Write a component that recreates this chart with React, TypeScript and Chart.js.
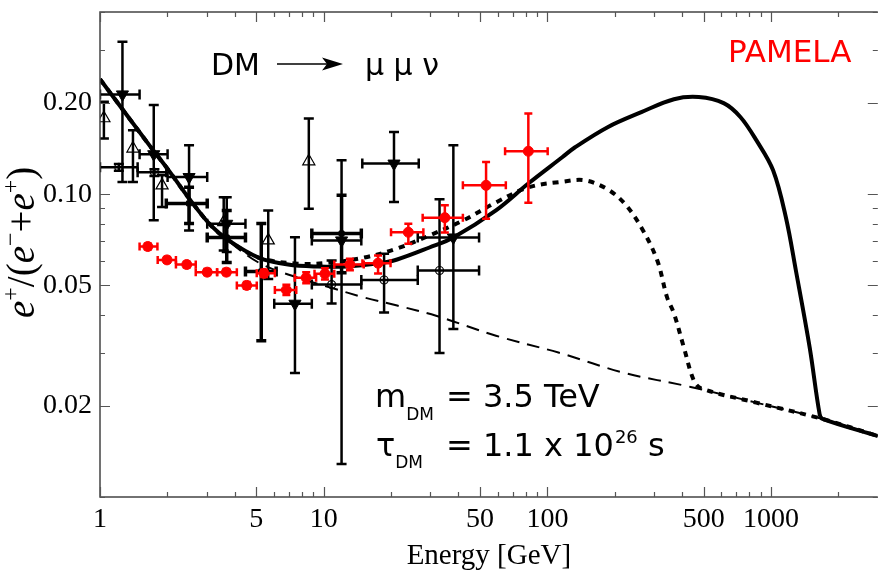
import React, { useEffect, useRef } from 'react';
import { Chart, registerables } from 'chart.js';

Chart.register(...registerables);

// ---------------- Axes ----------------
const X_MIN = 1;
const X_MAX = 3000;
const Y_MIN = 0.01;
const Y_MAX = 0.4;

const xTickValues = [1, 2, 3, 4, 5, 6, 7, 8, 9, 10, 20, 30, 40, 50, 60, 70, 80, 90, 100, 200, 300, 400, 500, 600, 700, 800, 900, 1000, 2000];
const xMajorValues = [1, 5, 10, 50, 100, 500, 1000];
const xMajorLabels = ['1', '5', '10', '50', '100', '500', '1000'];

const yTickValues = [0.01, 0.02, 0.03, 0.04, 0.05, 0.06, 0.07, 0.08, 0.09, 0.1, 0.2, 0.3, 0.4];
const yMajorValues = [0.02, 0.05, 0.1, 0.2];
const yMajorLabels = ['0.02', '0.05', '0.10', '0.20'];

// ---------------- Model curves ----------------
// DM -> mu mu nu, m = 3.5 TeV (solid)
const totalE = [1, 1.664, 2.04, 2.5, 3.13, 3.76, 5.11, 6.93, 9.41, 12.77, 17.3, 21.3, 29.7, 38.0, 58.9, 82.4, 116.5, 133, 186, 263, 368, 475, 614, 729, 859, 1021, 1165, 1291, 1489, 1648, 1699, 3000];
const totalRatio = [0.24, 0.145, 0.1192, 0.0969, 0.0789, 0.0704, 0.0618, 0.0586, 0.0577, 0.0577, 0.059, 0.0609, 0.0667, 0.072, 0.0885, 0.1087, 0.1325, 0.143, 0.1666, 0.1867, 0.206, 0.2094, 0.2, 0.18, 0.1509, 0.12, 0.0838, 0.056, 0.0311, 0.0188, 0.0181, 0.0159];

// lighter DM (dotted)
const lightE = [1, 1.664, 2.04, 2.5, 3.13, 3.76, 5.11, 7.67, 10.7, 15.2, 21.3, 29.7, 42.1, 58.9, 82.4, 116.5, 147, 186, 221, 263, 310, 343, 368, 408, 452, 490, 859, 1699, 3000];
const lightRatio = [0.24, 0.145, 0.1192, 0.0969, 0.0789, 0.0704, 0.0618, 0.059, 0.0595, 0.0618, 0.0662, 0.0731, 0.082, 0.094, 0.1054, 0.11, 0.1112, 0.1038, 0.0933, 0.0777, 0.0604, 0.0456, 0.0404, 0.0311, 0.0242, 0.0228, 0.0205, 0.0181, 0.0159];

// astrophysical background (dashed)
const bkgE = [1, 1.664, 2.04, 2.5, 3.13, 3.76, 5.11, 6.93, 10.7, 15.2, 21.3, 31.8, 58.9, 112, 221, 437, 857, 1699, 3000];
const bkgRatio = [0.24, 0.145, 0.1192, 0.0969, 0.0789, 0.07, 0.0595, 0.0543, 0.0492, 0.0456, 0.0429, 0.0397, 0.0341, 0.03, 0.0257, 0.0231, 0.0205, 0.0181, 0.0159];

// ---------------- Data: PAMELA ----------------
const pamelaE = [1.636, 1.993, 2.443, 3.015, 3.673, 4.53, 5.41, 6.81, 8.35, 10.13, 13.1, 17.5, 23.9, 34.8, 53.2, 82.2];
const pamelaELo = [1.503, 1.811, 2.185, 2.679, 3.338, 4.09, 5.02, 6.05, 7.42, 9.1, 11.15, 14.9, 20.0, 27.7, 41.9, 64.7];
const pamelaEHi = [1.806, 2.185, 2.679, 3.338, 4.09, 5.02, 6.05, 7.54, 9.25, 11.15, 15.1, 19.9, 27.9, 41.9, 65.2, 100.3];
const pamelaR = [0.0672, 0.0607, 0.0586, 0.0553, 0.0553, 0.05, 0.0548, 0.0483, 0.053, 0.0546, 0.0586, 0.0592, 0.0749, 0.0837, 0.107, 0.1387];
const pamelaRLo = [0.0657, 0.0594, 0.0573, 0.0541, 0.0541, 0.0487, 0.0533, 0.0465, 0.0508, 0.0523, 0.0561, 0.0547, 0.0686, 0.0748, 0.083, 0.0938];
const pamelaRHi = [0.0688, 0.0621, 0.0599, 0.0566, 0.0566, 0.0513, 0.0563, 0.0502, 0.0553, 0.057, 0.0612, 0.0628, 0.0799, 0.0919, 0.1278, 0.1849];

// ---------------- Data: filled down triangles ----------------
const triDownE = [1.26, 1.739, 2.501, 3.686, 7.44, 12.02, 20.62, 37.99];
const triDownELo = [1.0, 1.503, 2.005, 3.015, 6.01, 8.85, 14.88, 26.33];
const triDownEHi = [1.503, 2.005, 3.015, 4.47, 8.85, 14.73, 26.6, 49.5];
const triDownR = [0.2137, 0.1356, 0.114, 0.0799, 0.0435, 0.0704, 0.1263, 0.072];
const triDownRLo = [0.1097, 0.082, 0.0759, 0.0644, 0.0257, 0.01285, 0.0943, 0.0359];
const triDownRHi = [0.319, 0.197, 0.1452, 0.0977, 0.0721, 0.1295, 0.1607, 0.1452];

// ---------------- Data: open up triangles ----------------
const triUpE = [1.041, 1.404, 1.894, 3.573, 5.65, 8.58];
const triUpR = [0.1783, 0.1416, 0.107, 0.0809, 0.0704, 0.1285];
const triUpRLo = [0.1528, 0.1097, 0.0907, 0.0652, 0.0525, 0.0896];
const triUpRHi = [0.202, 0.1628, 0.1155, 0.0977, 0.0884, 0.1781];

// ---------------- Data: open circles ----------------
const circE = [1.214, 1.751, 10.85, 18.62, 32.95];
const circELo = [1.0, 1.473, 8.85, 14.73, 26.33];
const circEHi = [1.473, 1.979, 14.73, 26.33, 49.5];
const circR = [0.1228, 0.1182, 0.0503, 0.0521, 0.056];
const circRLo = [0.1195, 0.115, 0.0436, 0.0407, 0.0299];
const circRHi = [0.126, 0.121, 0.0604, 0.0636, 0.0962];

// ---------------- Data: small filled squares ----------------
const sqE = [2.501, 3.686, 5.26, 12.02];
const sqELo = [1.979, 3.015, 4.47, 8.85];
const sqEHi = [3.015, 4.47, 6.13, 14.73];
const sqR = [0.0933, 0.072, 0.0556, 0.0742];
const sqRLo = [0.0801, 0.0595, 0.0328, 0.0551];
const sqRHi = [0.1054, 0.0884, 0.0801, 0.0992];

const SERIF = '"Liberation Serif", "Times New Roman", serif';
const SANS = '"DejaVu Sans", Verdana, sans-serif';

function pts(xs: number[], ys: number[]) {
  return xs.map((x, i) => ({ x, y: ys[i] }));
}
function errs(xl: number[] | null, xh: number[] | null, yl: number[], yh: number[], xs: number[]) {
  return xs.map((x, i) => ({
    xLo: xl ? xl[i] : x,
    xHi: xh ? xh[i] : x,
    yLo: yl[i],
    yHi: yh[i],
  }));
}

function findLabel(v: number, vals: number[], labels: string[]) {
  const i = vals.findIndex((m) => Math.abs(m - v) / m < 1e-6);
  return i >= 0 ? labels[i] : null;
}

const errorBarPlugin = {
  id: 'errorBars',
  beforeDatasetDraw(chart: any, args: any) {
    const ds = chart.data.datasets[args.index];
    if (!ds.errors) return;
    const { ctx, chartArea: a } = chart;
    const xs = chart.scales.x;
    const ys = chart.scales.y;
    ctx.save();
    ctx.beginPath();
    ctx.rect(a.left, a.top, a.right - a.left, a.bottom - a.top);
    ctx.clip();
    ctx.strokeStyle = ds.errColor;
    ctx.lineWidth = ds.errWidth;
    ctx.lineCap = 'butt';
    const cap = ds.errCap;
    ds.data.forEach((p: any, i: number) => {
      const e = ds.errors[i];
      const px = xs.getPixelForValue(p.x);
      const py = ys.getPixelForValue(p.y);
      const xl = xs.getPixelForValue(e.xLo);
      const xh = xs.getPixelForValue(e.xHi);
      const yl = ys.getPixelForValue(e.yLo);
      const yh = ys.getPixelForValue(e.yHi);
      ctx.beginPath();
      if (xh - xl > 0.5) {
        ctx.moveTo(xl, py); ctx.lineTo(xh, py);
        ctx.moveTo(xl, py - cap); ctx.lineTo(xl, py + cap);
        ctx.moveTo(xh, py - cap); ctx.lineTo(xh, py + cap);
      }
      if (yl - yh > 0.5) {
        ctx.moveTo(px, yl); ctx.lineTo(px, yh);
        ctx.moveTo(px - cap, yl); ctx.lineTo(px + cap, yl);
        ctx.moveTo(px - cap, yh); ctx.lineTo(px + cap, yh);
      }
      ctx.stroke();
    });
    ctx.restore();
  },
};

const framePlugin = {
  id: 'frame',
  afterDatasetsDraw(chart: any) {
    const { ctx, chartArea: a } = chart;
    const xs = chart.scales.x;
    const ys = chart.scales.y;
    ctx.save();
    ctx.strokeStyle = '#444';
    ctx.lineWidth = 1.5;
    ctx.beginPath();
    ctx.moveTo(a.right, a.top); ctx.lineTo(a.left, a.top); ctx.lineTo(a.left, a.bottom); ctx.lineTo(a.right, a.bottom);
    ctx.stroke();
    ctx.lineWidth = 1.2;
    ctx.strokeStyle = '#555';
    ctx.beginPath();
    xTickValues.forEach((v) => {
      const px = Math.round(xs.getPixelForValue(v)) + 0.5;
      const len = findLabel(v, xMajorValues, xMajorLabels) !== null ? 10 : 5;
      ctx.moveTo(px, a.bottom); ctx.lineTo(px, a.bottom - len);
      ctx.moveTo(px, a.top); ctx.lineTo(px, a.top + len);
    });
    yTickValues.forEach((v) => {
      const py = Math.round(ys.getPixelForValue(v)) + 0.5;
      const len = findLabel(v, yMajorValues, yMajorLabels) !== null ? 10 : 5;
      ctx.moveTo(a.left, py); ctx.lineTo(a.left + len, py);
      ctx.moveTo(a.right, py); ctx.lineTo(a.right - len, py);
    });
    ctx.stroke();
    ctx.restore();
  },
};

const textPlugin = {
  id: 'texts',
  afterDraw(chart: any) {
    const ctx = chart.ctx;
    ctx.save();
    ctx.textAlign = 'left';
    ctx.textBaseline = 'alphabetic';
    ctx.fillStyle = '#000';

    // DM -> mu mu nu
    ctx.font = `30px ${SANS}`;
    ctx.fillText('DM', 211, 75);
    ctx.strokeStyle = '#000';
    ctx.lineWidth = 1.5;
    ctx.beginPath(); ctx.moveTo(277, 64); ctx.lineTo(330, 64); ctx.stroke();
    ctx.beginPath();
    ctx.moveTo(343, 64); ctx.lineTo(322, 57.5); ctx.lineTo(327, 64); ctx.lineTo(322, 70.5); ctx.closePath();
    ctx.fill();
    ctx.fillText('\u03bc \u03bc \u03bd', 365, 75);

    // PAMELA
    ctx.fillStyle = '#ff0000';
    ctx.font = `31px ${SANS}`;
    ctx.fillText('PAMELA', 728, 62);

    // parameters
    ctx.fillStyle = '#000';
    ctx.font = `32px ${SANS}`;
    ctx.fillText('m', 375, 407);
    let w = ctx.measureText('m').width;
    ctx.font = `17px ${SANS}`;
    ctx.fillText('DM', 375 + w, 420);
    ctx.font = `32px ${SANS}`;
    ctx.fillText('= 3.5 TeV', 446, 407);

    ctx.fillText('\u03c4', 376, 456);
    w = ctx.measureText('\u03c4').width;
    ctx.font = `17px ${SANS}`;
    ctx.fillText('DM', 376 + w, 468);
    ctx.font = `32px ${SANS}`;
    const main = '= 1.1 x 10';
    ctx.fillText(main, 446, 456);
    let x = 446 + ctx.measureText(main).width + 1;
    ctx.font = `18px ${SANS}`;
    ctx.fillText('26', x, 443);
    x += ctx.measureText('26').width;
    ctx.font = `32px ${SANS}`;
    ctx.fillText(' s', x, 456);

    // y axis title e+/(e-+e+)
    ctx.translate(34, 318);
    ctx.rotate(-Math.PI / 2);
    const big = 39;
    const small = 24;
    const parts = [
      { t: 'e', f: `italic ${big}px ${SERIF}`, dy: 0 },
      { t: '+', f: `${small}px ${SERIF}`, dy: -big * 0.42 },
      { t: '/(', f: `${big}px ${SERIF}`, dy: 0 },
      { t: 'e', f: `italic ${big}px ${SERIF}`, dy: 0 },
      { t: '\u2212', f: `${small}px ${SERIF}`, dy: -big * 0.42 },
      { t: '+', f: `${big}px ${SERIF}`, dy: 0 },
      { t: 'e', f: `italic ${big}px ${SERIF}`, dy: 0 },
      { t: '+', f: `${small}px ${SERIF}`, dy: -big * 0.42 },
      { t: ')', f: `${big}px ${SERIF}`, dy: 0 },
    ];
    let px = 0;
    parts.forEach((p) => {
      ctx.font = p.f;
      ctx.fillText(p.t, px, p.dy);
      px += ctx.measureText(p.t).width;
    });
    ctx.restore();
  },
};

export default function App() {
  const canvasRef = useRef<HTMLCanvasElement | null>(null);

  useEffect(() => {
    const canvas = canvasRef.current;
    if (!canvas) return;

    const lineDs = (label: string, xs: number[], ys: number[], width: number, dash: number[], order: number) => ({
      type: 'line' as const,
      label,
      data: pts(xs, ys),
      borderColor: '#000',
      backgroundColor: '#000',
      borderWidth: width,
      borderDash: dash,
      borderCapStyle: 'butt' as const,
      borderJoinStyle: 'round' as const,
      pointRadius: 0,
      showLine: true,
      fill: false,
      tension: 0.35,
      order,
    });

    const chart = new Chart(canvas, {
      type: 'scatter',
      data: {
        datasets: [
          lineDs('background', bkgE, bkgRatio, 2, [13, 8], 12),
          lineDs('light DM', lightE, lightRatio, 4, [6, 6], 11),
          lineDs('DM 3.5 TeV', totalE, totalRatio, 4, [], 10),
          {
            label: 'squares',
            data: pts(sqE, sqR),
            pointStyle: 'rect',
            pointRadius: 3.5,
            backgroundColor: '#000',
            borderColor: '#000',
            borderWidth: 1,
            showLine: false,
            order: 7,
            errors: errs(sqELo, sqEHi, sqRLo, sqRHi, sqE),
            errColor: '#000', errWidth: 3.5, errCap: 5,
          } as any,
          {
            label: 'open circles',
            data: pts(circE, circR),
            pointStyle: 'circle',
            pointRadius: 4,
            backgroundColor: 'rgba(0,0,0,0)',
            borderColor: '#000',
            borderWidth: 1.2,
            showLine: false,
            order: 6,
            errors: errs(circELo, circEHi, circRLo, circRHi, circE),
            errColor: '#000', errWidth: 2.5, errCap: 5,
          } as any,
          {
            label: 'open triangles',
            data: pts(triUpE, triUpR),
            pointStyle: 'triangle',
            pointRadius: 7,
            backgroundColor: 'rgba(0,0,0,0)',
            borderColor: '#000',
            borderWidth: 1.2,
            showLine: false,
            order: 5,
            errors: errs(null, null, triUpRLo, triUpRHi, triUpE),
            errColor: '#000', errWidth: 2.5, errCap: 5,
          } as any,
          {
            label: 'filled triangles',
            data: pts(triDownE, triDownR),
            pointStyle: 'triangle',
            rotation: 180,
            pointRadius: 7,
            backgroundColor: '#000',
            borderColor: '#000',
            borderWidth: 1,
            showLine: false,
            order: 4,
            errors: errs(triDownELo, triDownEHi, triDownRLo, triDownRHi, triDownE),
            errColor: '#000', errWidth: 2.5, errCap: 5,
          } as any,
          {
            label: 'PAMELA',
            data: pts(pamelaE, pamelaR),
            pointStyle: 'circle',
            pointRadius: 5,
            backgroundColor: '#ff0000',
            borderColor: '#ff0000',
            borderWidth: 1,
            showLine: false,
            order: 0,
            errors: errs(pamelaELo, pamelaEHi, pamelaRLo, pamelaRHi, pamelaE),
            errColor: '#ff0000', errWidth: 2.5, errCap: 4,
          } as any,
        ],
      },
      options: {
        responsive: false,
        animation: false,
        devicePixelRatio: 1,
        events: [],
        layout: { padding: { top: 12, left: 0, right: 0, bottom: 0 } },
        plugins: {
          legend: { display: false },
          tooltip: { enabled: false },
          title: { display: false },
        },
        scales: {
          x: {
            type: 'logarithmic',
            min: X_MIN,
            max: X_MAX,
            afterBuildTicks: (scale: any) => {
              scale.ticks = xTickValues.map((v) => ({ value: v }));
            },
            afterFit: (scale: any) => {
              scale.height = 79;
              scale.paddingLeft = 0;
              scale.paddingRight = 0;
              scale.paddingTop = 0;
              scale.paddingBottom = 0;
            },
            grid: { display: false, drawTicks: false },
            border: { display: false },
            ticks: {
              autoSkip: false,
              maxRotation: 0,
              minRotation: 0,
              padding: 6,
              color: '#000',
              font: { family: SERIF, size: 28 },
              callback: (v: any) => findLabel(Number(v), xMajorValues, xMajorLabels),
            },
            title: {
              display: true,
              text: 'Energy [GeV]',
              color: '#000',
              font: { family: SERIF, size: 29 },
              padding: { top: 0, bottom: 2 },
            },
          },
          y: {
            type: 'logarithmic',
            min: Y_MIN,
            max: Y_MAX,
            afterBuildTicks: (scale: any) => {
              scale.ticks = yTickValues.map((v) => ({ value: v }));
            },
            afterFit: (scale: any) => {
              scale.width = 100;
              scale.paddingLeft = 0;
              scale.paddingRight = 0;
              scale.paddingTop = 0;
              scale.paddingBottom = 0;
            },
            grid: { display: false, drawTicks: false },
            border: { display: false },
            ticks: {
              autoSkip: false,
              padding: 8,
              color: '#000',
              font: { family: SERIF, size: 28 },
              callback: (v: any) => findLabel(Number(v), yMajorValues, yMajorLabels),
            },
          },
        },
      },
      plugins: [errorBarPlugin, framePlugin, textPlugin],
    } as any);

    return () => {
      chart.destroy();
    };
  }, []);

  return (
    <div style={{ position: 'absolute', left: 0, top: 0, width: 879, height: 576, overflow: 'hidden', background: '#fff' }}>
      <canvas ref={canvasRef} width={886} height={576} style={{ display: 'block' }} />
    </div>
  );
}
